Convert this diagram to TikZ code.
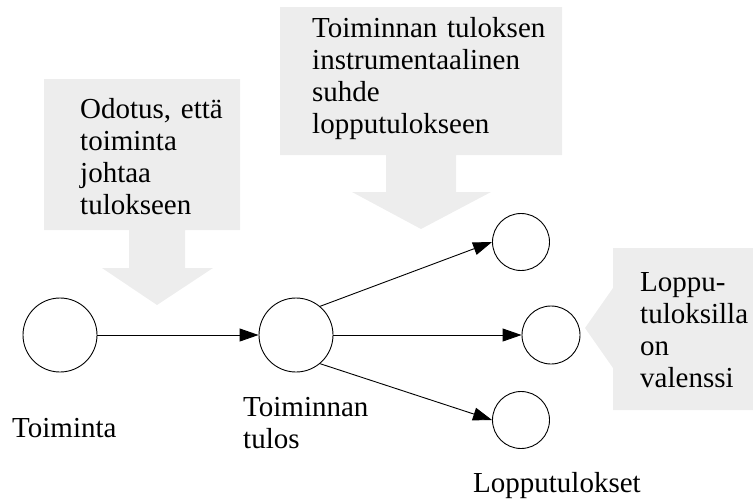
\documentclass[tikz,border=0pt]{standalone}
\usepackage{fontspec}
\setmainfont{Liberation Serif}
\usetikzlibrary{arrows.meta}
\definecolor{calloutgray}{RGB}{237,237,237}
\tikzset{
  state/.style={circle,draw=black,line width=0.9pt,inner sep=0pt,minimum size=#1},
  lbl/.style={anchor=base west,inner sep=0pt,text width=260pt,align=left,
    font=\fontsize{29}{32}\selectfont},
  conn/.style={line width=0.9pt,-{Triangle[length=19pt,width=13pt]}},
  callout/.style={fill=calloutgray,draw=none}
}
\begin{document}
\begin{tikzpicture}[x=1pt,y=-1pt]
\useasboundingbox (0,0) rectangle (753,499);
% callout shapes
\fill[callout] (44,79) -- (240,79) -- (240,230) -- (185,230) -- (185,268) -- (213,268)
  -- (157,305) -- (102,268) -- (129,268) -- (129,230) -- (44,230) -- cycle;
\fill[callout] (280,7) -- (562,7) -- (562,155) -- (456,155) -- (456,192) -- (491,192)
  -- (421,229) -- (352,192) -- (386,192) -- (386,155) -- (280,155) -- cycle;
\fill[callout] (613,248) -- (753,248) -- (753,410) -- (613,410) -- (613,368)
  -- (585,328) -- (613,288) -- cycle;
% callout texts
\node[lbl] (t1) at (80,118) {Odotus, että\\toiminta\\johtaa\\tulokseen};
\node[lbl] (t2) at (312,37) {Toiminnan tuloksen\\instrumentaalinen\\suhde\\lopputulokseen};
\node[lbl] (t3) at (640,291) {Loppu-\\tuloksilla\\on\\valenssi};
% states
\node[state=74pt] (A) at (60,335) {};
\node[state=74pt] (B) at (296,335) {};
\node[state=57pt] (C1) at (521,242) {};
\node[state=58pt] (C2) at (551,335) {};
\node[state=57pt] (C3) at (521,420) {};
% labels
\node[lbl] (lA) at (12,437) {Toiminta};
\node[lbl] (lB) at (243,416) {Toiminnan\\tulos};
\node[lbl] (lC) at (473,492) {Lopputulokset};
% connectors
\draw[conn] (A.east) -- (B.west);
\draw[conn] (B.50) -- (C1.west);
\draw[conn] (B.east) -- (C2.west);
\draw[conn] (B.-50) -- (C3.west);
\end{tikzpicture}
\end{document}
